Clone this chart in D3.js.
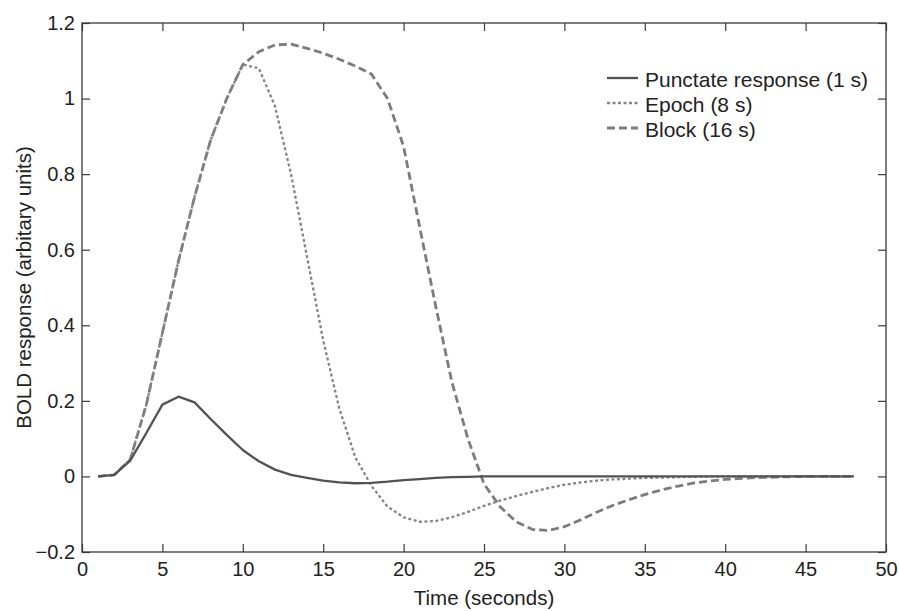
<!DOCTYPE html>
<html>
<head>
<meta charset="utf-8">
<script src="https://cdn.jsdelivr.net/npm/d3@7"></script>
<style>
  body { margin: 0; background: #fff; }
  svg text { font-family: "Liberation Sans", Arial, Helvetica, sans-serif; fill: #222; }
</style>
</head>
<body>
<svg id="chart" width="899" height="611"></svg>
<script>
// time points (seconds)
var TIME = [1, 2, 3, 4, 5, 6, 7, 8, 9, 10, 11, 12, 13, 14, 15, 16, 17, 18, 19, 20, 21, 22, 23, 24,
            25, 26, 27, 28, 29, 30, 31, 32, 33, 34, 35, 36, 37, 38, 39, 40, 41, 42, 43, 44, 45, 46, 47, 48];

var PUNCTATE = [0, 0.004, 0.042, 0.115, 0.19, 0.211, 0.196, 0.152, 0.11, 0.07, 0.04, 0.018, 0.004, -0.004, -0.011, -0.016,
                -0.018, -0.017, -0.014, -0.01, -0.007, -0.004, -0.002, -0.001, 0, 0, 0, 0, 0, 0, 0, 0,
                0, 0, 0, 0, 0, 0, 0, 0, 0, 0, 0, 0, 0, 0, 0, 0];
var EPOCH = [0, 0.004, 0.045, 0.19, 0.38, 0.57, 0.74, 0.89, 1.0, 1.09, 1.08, 0.98, 0.8, 0.58, 0.36, 0.18,
             0.05, -0.025, -0.08, -0.108, -0.12, -0.118, -0.108, -0.094, -0.078, -0.064, -0.052, -0.041, -0.031, -0.022, -0.016, -0.011,
             -0.008, -0.006, -0.004, -0.003, -0.002, -0.001, 0, 0, 0, 0, 0, 0, 0, 0, 0, 0];
var BLOCK = [0, 0.004, 0.045, 0.19, 0.38, 0.57, 0.74, 0.89, 1.0, 1.09, 1.124, 1.142, 1.144, 1.133, 1.12, 1.104,
             1.086, 1.065, 1.0, 0.873, 0.66, 0.45, 0.25, 0.1, -0.02, -0.08, -0.12, -0.14, -0.143, -0.133, -0.115, -0.095,
             -0.077, -0.062, -0.048, -0.036, -0.026, -0.018, -0.012, -0.008, -0.005, -0.003, -0.002, -0.001, 0, 0, 0, 0];

var SERIESNAMES = ['Punctate response (1 s)', 'Epoch (8 s)', 'Block (16 s)'];
var XTICKS = [0, 5, 10, 15, 20, 25, 30, 35, 40, 45, 50];
var YTICKS = [-0.2, 0, 0.2, 0.4, 0.6, 0.8, 1, 1.2];
var XLABEL = 'Time (seconds)';
var YLABEL = 'BOLD response (arbitary units)';

var BOX = {'left': 82, 'right': 886, 'top': 23, 'bottom': 552};
var TICKLEN = 8;

var d3sSVG = d3.select('#chart');
var xScale = d3.scaleLinear().domain([0, 50]).range([BOX.left, BOX.right]);
var yScale = d3.scaleLinear().domain([-0.2, 1.2]).range([BOX.bottom, BOX.top]);

// styles per series: solid, dotted, dashed
var STYLES = [
  {'color': '#525252', 'width': 2.3, 'dash': null},
  {'color': '#858585', 'width': 2.3, 'dash': '3,2.5'},
  {'color': '#7c7c7c', 'width': 2.8, 'dash': '8,4'}
];

function drawAxes()
{
  var fmt = function(d) { return d3.format('~g')(d); };
  var axisColor = '#3a3a3a';

  var gx = d3sSVG.append('g').attr('transform', 'translate(0,' + BOX.bottom + ')')
    .call(d3.axisBottom(xScale).tickValues(XTICKS).tickFormat(fmt).tickSizeInner(-TICKLEN).tickSizeOuter(0).tickPadding(10));
  var gy = d3sSVG.append('g').attr('transform', 'translate(' + BOX.left + ',0)')
    .call(d3.axisLeft(yScale).tickValues(YTICKS).tickFormat(fmt).tickSizeInner(-TICKLEN).tickSizeOuter(0).tickPadding(7));
  var gt = d3sSVG.append('g').attr('transform', 'translate(0,' + BOX.top + ')')
    .call(d3.axisTop(xScale).tickValues(XTICKS).tickFormat('').tickSizeInner(-TICKLEN).tickSizeOuter(0));
  var gr = d3sSVG.append('g').attr('transform', 'translate(' + BOX.right + ',0)')
    .call(d3.axisRight(yScale).tickValues(YTICKS).tickFormat('').tickSizeInner(-TICKLEN).tickSizeOuter(0));

  [gx, gy, gt, gr].forEach(function(g) {
    g.select('.domain').remove();
    g.selectAll('line').attr('stroke', axisColor).attr('stroke-width', 1.2);
    g.selectAll('text').style('font-size', '20px').attr('fill', '#222');
  });

  d3sSVG.append('rect')
    .attr('x', BOX.left).attr('y', BOX.top)
    .attr('width', BOX.right - BOX.left).attr('height', BOX.bottom - BOX.top)
    .attr('fill', 'none').attr('stroke', axisColor).attr('stroke-width', 1.3);

  d3sSVG.append('text')
    .attr('x', (BOX.left + BOX.right) / 2).attr('y', 605)
    .attr('text-anchor', 'middle').style('font-size', '20.5px')
    .text(XLABEL);

  d3sSVG.append('text')
    .attr('transform', 'translate(31,' + ((BOX.top + BOX.bottom) / 2) + ') rotate(-90)')
    .attr('text-anchor', 'middle').style('font-size', '20.5px')
    .text(YLABEL);
}

function drawLines()
{
  var allSeries = [PUNCTATE, EPOCH, BLOCK];
  var lineGen = d3.line()
    .x(function(d) { return xScale(d[0]); })
    .y(function(d) { return yScale(d[1]); });

  // draw block first so the solid one sits on top
  [2, 1, 0].forEach(function(i) {
    var pts = TIME.map(function(t, j) { return [t, allSeries[i][j]]; });
    var p = d3sSVG.append('path')
      .datum(pts)
      .attr('d', lineGen)
      .attr('fill', 'none')
      .attr('stroke', STYLES[i].color)
      .attr('stroke-width', STYLES[i].width)
      .attr('stroke-linejoin', 'round');
    if (STYLES[i].dash) p.attr('stroke-dasharray', STYLES[i].dash);
  });
}

function drawLegend()
{
  var iX = 607, iLen = 31, iBase = 87, iStep = 25;
  var d3sLegend = d3sSVG.append('g').classed('legend', true);
  SERIESNAMES.forEach(function(name, i) {
    var fY = iBase + i * iStep;
    var l = d3sLegend.append('line')
      .attr('x1', iX).attr('x2', iX + iLen)
      .attr('y1', fY - 9).attr('y2', fY - 9)
      .attr('stroke', STYLES[i].color)
      .attr('stroke-width', STYLES[i].width);
    if (STYLES[i].dash) l.attr('stroke-dasharray', STYLES[i].dash);
    d3sLegend.append('text')
      .attr('x', iX + iLen + 7).attr('y', fY)
      .style('font-size', '21px')
      .text(name);
  });
}

drawLines();
drawAxes();
drawLegend();
</script>
</body>
</html>
